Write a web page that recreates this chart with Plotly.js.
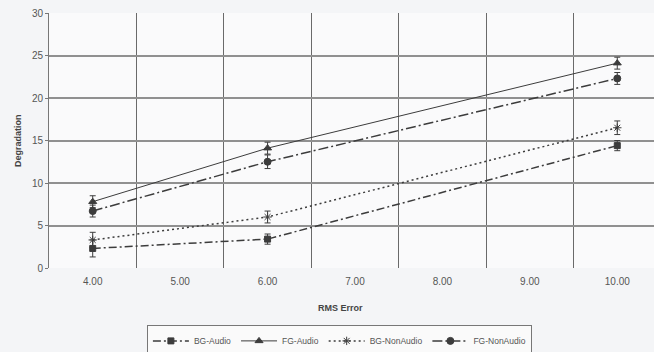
<!DOCTYPE html>
<html><head><meta charset="utf-8">
<script src="https://cdn.plot.ly/plotly-3.0.1.min.js"></script>
<style>html,body{margin:0;padding:0;background:#f4f5f7;}</style>
</head><body>
<div id="chart" style="width:654px;height:352px;"></div>
<script>
const categories = ["4.00","5.00","6.00","7.00","8.00","9.00","10.00"];
const xPoints = ["4.00","6.00","10.00"];
const bgAudio = [2.3, 3.4, 14.4];
const bgAudioErr = [1.0, 0.6, 0.6];
const fgAudio = [7.8, 14.1, 24.1];
const fgAudioErr = [0.7, 0.7, 0.7];
const bgNonAudio = [3.3, 6.0, 16.5];
const bgNonAudioErr = [0.9, 0.7, 0.8];
const fgNonAudio = [6.7, 12.5, 22.3];
const fgNonAudioErr = [0.7, 0.8, 0.7];
const yTicks = [0,5,10,15,20,25,30];

const col = '#3c3c3c';
function tr(name, y, err, dash, sym, size, w){
  return {type:'scatter', mode:'lines+markers', name:name, x:xPoints, y:y,
    line:{color:col, width:w, dash:dash},
    marker:{symbol:sym, size:size, color:col, line:{color:col, width:1}},
    error_y:{type:'data', array:err, visible:true, color:col, thickness:1, width:3}};
}
const data = [
  tr('BG-Audio', bgAudio, bgAudioErr, '8px,3px,2px,3px', 'square', 6, 1.5),
  tr('FG-Audio', fgAudio, fgAudioErr, 'solid', 'triangle-up', 7, 1),
  tr('BG-NonAudio', bgNonAudio, bgNonAudioErr, '2px,3px', 'asterisk-open', 7, 1.5),
  tr('FG-NonAudio', fgNonAudio, fgNonAudioErr, '10px,3px,2px,3px', 'circle', 7, 1.5)
];
const layout = {
  width:654, height:352,
  margin:{l:49, r:0, t:13, b:84, autoexpand:false},
  paper_bgcolor:'#f4f5f7', plot_bgcolor:'#fafafb',
  font:{family:'Liberation Sans, Arial, sans-serif', size:10, color:'#555'},
  showlegend:true,
  legend:{orientation:'h', x:0.48, xanchor:'center', y:-0.225, yanchor:'top',
    bgcolor:'#fafafa', bordercolor:'#777', borderwidth:1,
    font:{size:8.5, color:'#555'}, itemwidth:36, tracegroupgap:0},
  xaxis:{type:'category', categoryorder:'array', categoryarray:categories,
    range:[-0.5, 6.42], tickson:'boundaries', showgrid:true, gridcolor:'#6a6a6a', gridwidth:1,
    ticks:'', showline:false, zeroline:false, fixedrange:true, ticklabelstandoff:6,
    tickfont:{size:10, color:'#555'}},
  yaxis:{range:[0,30], tickvals:yTicks, showgrid:true, gridcolor:'#909090', gridwidth:2,
    showline:true, linecolor:'#777', linewidth:1, ticks:'outside', ticklen:3, tickcolor:'#777',
    zeroline:false, tickfont:{size:10, color:'#555'}},
  annotations:[
    {text:'<b>RMS Error</b>', xref:'paper', yref:'paper', x:0.482, y:-0.13, xanchor:'center', yanchor:'top',
      showarrow:false, font:{size:9, color:'#444'}},
    {text:'<b>Degradation</b>', xref:'paper', yref:'paper', x:-0.052, y:0.5, xanchor:'center', yanchor:'middle',
      textangle:-90, showarrow:false, font:{size:9, color:'#444'}}
  ]
};
Plotly.newPlot('chart', data, layout, {displayModeBar:false, staticPlot:true});
</script>
</body></html>
